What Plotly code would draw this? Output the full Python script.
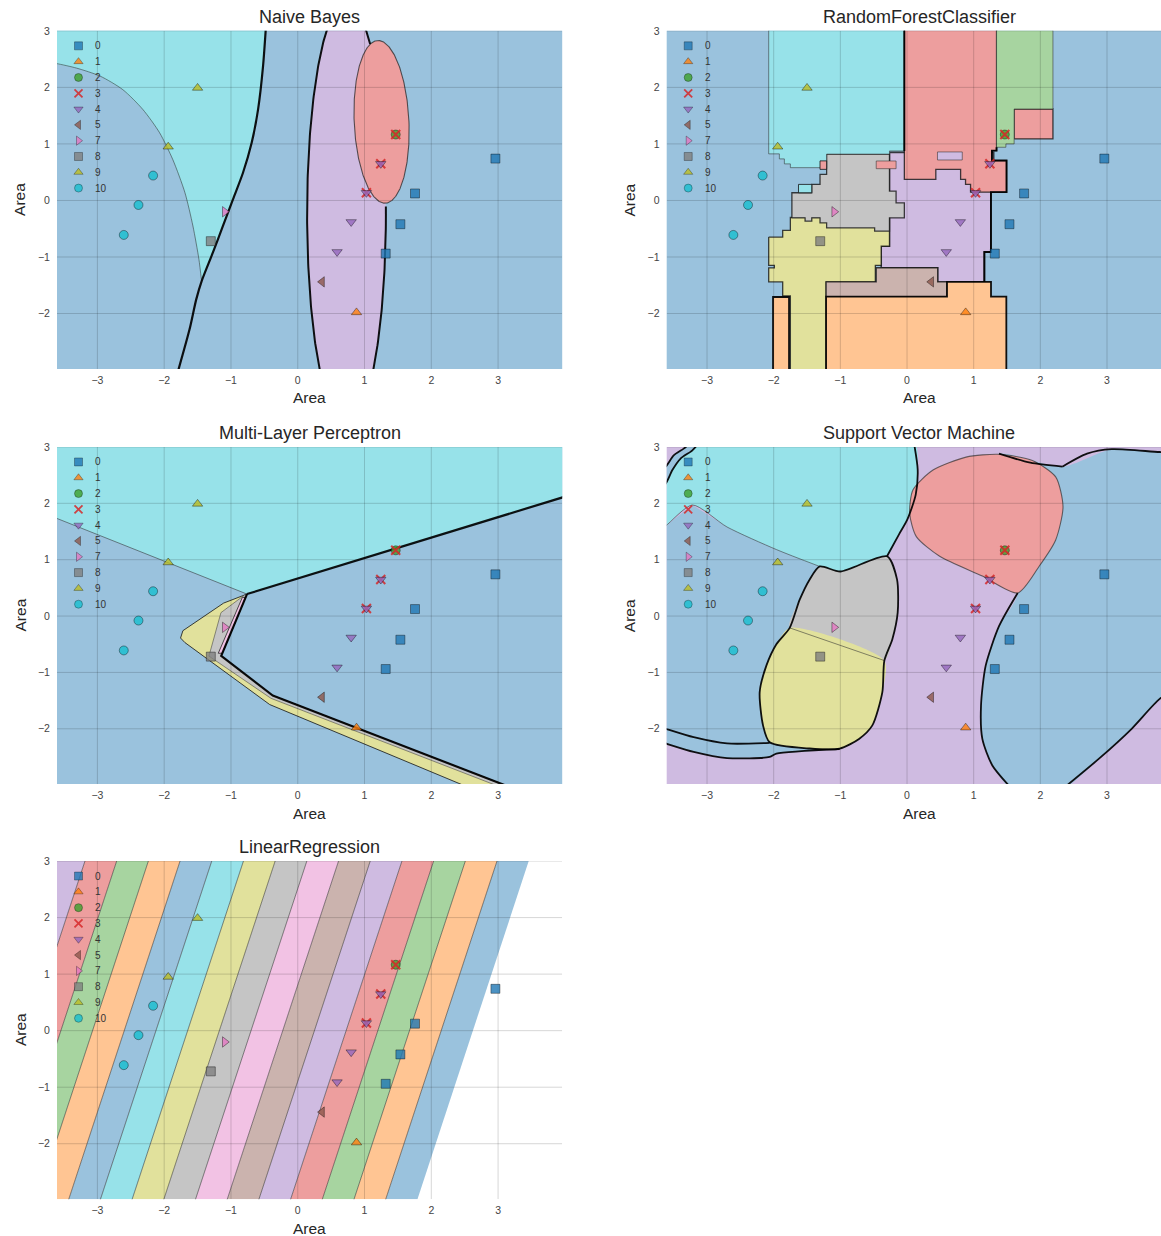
import numpy as np
import plotly.graph_objects as go

W, H = 1161, 1236
FONT = "Liberation Sans, Arial, sans-serif"

# ---------------- samples ----------------
sample_x = [2.96, 1.756, 1.537, 1.317, 0.88, 1.467, 1.467, 1.243, 1.028,
            1.243, 1.028, 0.80, 0.589, 0.364, -1.093, -1.302, -1.50, -1.94,
            -2.166, -2.385, -2.605]
sample_y = [0.74, 0.124, -0.42, -0.94, -1.98, 1.166, 1.166, 0.648, 0.135,
            0.648, 0.135, -0.38, -0.91, -1.44, -0.20, -0.72, 1.99, 0.95,
            0.44, -0.08, -0.61]
sample_class = [0, 0, 0, 0, 1, 2, 3, 3, 3, 4, 4, 4, 4, 5, 7, 8, 9, 9, 10, 10, 10]

class_labels = [0, 1, 2, 3, 4, 5, 7, 8, 9, 10]
class_colors = ['#1f77b4', '#ff7f0e', '#3ca02c', '#d62728', '#9467bd',
                '#8c564b', '#e377c2', '#7f7f7f', '#bcbd22', '#17becf']
class_symbols = ['square', 'triangle-up', 'circle', 'x-thin', 'triangle-down',
                 'triangle-left', 'triangle-right', 'square', 'triangle-up', 'circle']

x_ticks = [-3, -2, -1, 0, 1, 2, 3]
y_ticks = [-2, -1, 0, 1, 2, 3]

# ---------------- Naive Bayes regions ----------------
nb_boundary_x = [-0.475, -0.52, -0.594, -0.69, -0.82, -0.97, -1.12, -1.27, -1.44, -1.52, -1.62, -1.80]
nb_boundary_y = [3.1, 2.37, 1.61, 1.02, 0.49, 0.02, -0.45, -0.92, -1.43, -1.75, -2.28, -3.05]
nb_apex_index = 8
nb_cyan_edge_x = [-3.7, -3.61, -3.31, -2.96, -2.62, -2.32, -2.07, -1.87, -1.69, -1.57, -1.48, -1.44]
nb_cyan_edge_y = [2.43, 2.42, 2.34, 2.20, 1.96, 1.61, 1.20, 0.72, 0.14, -0.45, -1.04, -1.43]
nb_ellipse_class4 = dict(cx=0.73, cy=-0.24, rx=0.59, ry=3.76, tilt=0.0)
nb_ellipse_class3 = dict(cx=1.255, cy=1.39, rx=0.41, ry=1.44, tilt=0.038)

# ---------------- Random forest regions (drawn in order) ----------------
rf_class4 = [(-0.263, 0.85), (1.3, 0.85), (1.3, 0.147), (1.259, 0.147), (1.259, -0.912),
             (1.16, -0.912), (1.16, -1.441), (0.46, -1.441), (0.46, -1.19), (-0.387, -1.19),
             (-0.387, -0.81), (-0.263, -0.81)]
rf_class9 = [(-2.075, -0.647), (-1.865, -0.647), (-1.865, -0.529), (-1.75, -0.529), (-1.75, -0.30),
             (-0.263, -0.30), (-0.263, -0.81), (-0.387, -0.81), (-0.387, -1.147), (-0.475, -1.147),
             (-0.475, -1.441), (-1.214, -1.441), (-1.214, -3.1), (-1.75, -3.1), (-1.75, -1.688),
             (-1.865, -1.688), (-1.865, -1.441), (-2.075, -1.441), (-2.075, -1.194), (-1.99, -1.194),
             (-1.99, -1.147), (-2.075, -1.147)]
rf_class8 = [(-1.206, 0.82), (-0.263, 0.82), (-0.263, 0.166), (-0.164, 0.166), (-0.164, -0.041),
             (-0.04, -0.041), (-0.04, -0.308), (-0.263, -0.308), (-0.263, -0.544), (-0.486, -0.544),
             (-0.486, -0.485), (-1.206, -0.485), (-1.206, -0.396), (-1.305, -0.396), (-1.305, -0.308),
             (-1.429, -0.308), (-1.429, -0.367), (-1.529, -0.367), (-1.529, -0.308), (-1.727, -0.308),
             (-1.727, 0.136), (-1.429, 0.136), (-1.429, 0.284), (-1.305, 0.284), (-1.305, 0.462),
             (-1.206, 0.462)]
rf_class10 = [(-2.075, 3.1), (-0.04, 3.1), (-0.04, 0.876), (-0.263, 0.876), (-0.263, 0.82),
              (-1.206, 0.82), (-1.206, 0.58), (-1.75, 0.58), (-1.75, 0.647), (-1.84, 0.647),
              (-1.84, 0.735), (-1.915, 0.735), (-1.915, 0.824), (-2.075, 0.824)]
rf_class3_main = [(-0.04, 3.1), (1.343, 3.1), (1.343, 0.882), (1.274, 0.882), (1.274, 0.706),
                  (1.493, 0.706), (1.493, 0.147), (0.953, 0.147), (0.953, 0.284), (0.878, 0.284),
                  (0.878, 0.373), (0.804, 0.373), (0.804, 0.55), (0.432, 0.55), (0.432, 0.373),
                  (-0.04, 0.373)]
rf_class3_strip = [(-0.462, 0.562), (-0.164, 0.562), (-0.164, 0.698), (-0.462, 0.698)]
rf_class3_small = [(-1.305, 0.55), (-1.206, 0.55), (-1.206, 0.70), (-1.305, 0.70)]
rf_class3_block = [(1.607, 1.088), (2.189, 1.088), (2.189, 1.618), (1.607, 1.618)]
rf_class2 = [(1.343, 3.1), (2.189, 3.1), (2.189, 1.618), (1.607, 1.618), (1.607, 1.0),
             (1.483, 1.0), (1.483, 0.941), (1.343, 0.941)]
rf_class5 = [(-1.214, -1.70), (0.60, -1.70), (0.60, -1.441), (0.46, -1.441), (0.46, -1.19),
             (-0.462, -1.19), (-0.462, -1.441), (-1.214, -1.441)]
rf_class1_main = [(-1.214, -3.1), (1.49, -3.1), (1.49, -1.70), (1.26, -1.70), (1.26, -1.441),
                  (0.60, -1.441), (0.60, -1.70), (-1.214, -1.70)]
rf_class1_column = [(-2.01, -3.1), (-1.77, -3.1), (-1.77, -1.708), (-2.01, -1.708)]
rf_class10_island = [(-1.628, 0.136), (-1.429, 0.136), (-1.429, 0.284), (-1.628, 0.284)]
rf_class4_island = [(0.457, 0.716), (0.829, 0.716), (0.829, 0.858), (0.457, 0.858)]
rf_heavy_edges = [
    [(-0.04, 3.1), (-0.04, 0.876)],
    [(1.343, 0.941), (1.343, 0.882), (1.274, 0.882), (1.274, 0.706), (1.493, 0.706),
     (1.493, 0.147), (1.259, 0.147), (1.259, -0.912), (1.16, -0.912), (1.16, -1.441)],
]

# ---------------- Multi-layer perceptron regions ----------------
mlp_class10 = [(-3.7, 1.776), (-0.76, 0.39), (4.05, 2.136), (4.05, 3.1), (-3.7, 3.1)]
mlp_class9 = [(-0.76, 0.39), (-1.11, 0.23), (-1.72, -0.26), (-1.755, -0.39), (-1.69, -0.47),
              (-0.42, -1.57), (2.68, -3.1), (3.32, -3.1), (-0.374, -1.41), (-1.146, -0.706)]
mlp_class8 = [(-0.76, 0.39), (-0.80, 0.37), (-1.15, 0.06), (-1.33, -0.71), (-0.40, -1.46),
              (3.18, -3.1), (3.32, -3.1), (-0.374, -1.41), (-1.146, -0.706)]
mlp_class7 = [(-0.781, 0.33), (-0.83, 0.33), (-1.19, -0.66), (-1.13, -0.66)]
mlp_thin_edge = [(-3.7, 1.776), (-0.76, 0.39)]
mlp_heavy_edges = [
    [(-0.76, 0.39), (4.05, 2.136)],
    [(-0.76, 0.39), (-1.146, -0.706), (-0.374, -1.41), (3.32, -3.1)],
]

# ---------------- Support vector machine regions ----------------
svm_class0_left = [(-3.7, 1.55), (-3.62, 1.6), (-3.22, 1.97), (-2.70, 1.58), (-1.96, 1.18),
                   (-1.31, 0.88), (-1.0, 0.79), (-0.5, 0.0), (-0.95, -2.3), (-1.01, -2.36),
                   (-1.96, -2.44), (-2.06, -2.50), (-2.70, -2.52), (-3.2, -2.41), (-3.62, -2.26),
                   (-3.7, -2.23)]
svm_class0_crescent = [(-3.7, 2.60), (-3.62, 2.65), (-3.50, 2.85), (-3.35, 2.97), (-3.22, 3.1),
                       (-3.10, 3.1), (-3.22, 2.94), (-3.40, 2.79), (-3.52, 2.59), (-3.62, 2.35),
                       (-3.7, 2.30)]
svm_class10 = [(-3.10, 3.1), (-3.22, 2.94), (-3.40, 2.79), (-3.52, 2.59), (-3.62, 2.35),
               (-3.7, 2.30), (-3.7, 1.55), (-3.62, 1.6), (-3.22, 1.97), (-2.70, 1.58),
               (-1.96, 1.18), (-1.31, 0.88), (-1.0, 0.79), (-0.30, 1.06), (-0.12, 1.45),
               (0.0, 1.7), (0.13, 2.15), (0.16, 2.6), (0.10, 3.1)]
svm_class8 = [(-1.31, 0.88), (-1.0, 0.79), (-0.30, 1.06), (-0.15, 0.65), (-0.14, 0.06),
              (-0.22, -0.41), (-0.34, -0.79), (-1.76, -0.21), (-1.61, 0.29), (-1.46, 0.65)]
svm_class9 = [(-1.76, -0.21), (-0.34, -0.79), (-0.37, -1.35), (-0.52, -1.94), (-0.72, -2.18),
              (-1.01, -2.35), (-1.46, -2.35), (-2.06, -2.24), (-2.16, -1.94), (-2.21, -1.35),
              (-2.11, -0.88), (-1.96, -0.5)]
svm_class0_right = [(1.66, 0.41), (1.38, -0.18), (1.18, -0.88), (1.11, -1.59), (1.13, -2.18),
                    (1.28, -2.65), (1.60, -3.1), (2.30, -3.1), (2.88, -2.53), (3.37, -2.0),
                    (3.79, -1.47), (4.1, -1.25), (4.1, 2.9), (3.79, 2.91), (3.07, 2.96),
                    (2.33, 2.65), (1.38, 2.88), (1.1, 2.6), (1.3, 1.5)]
svm_class3 = [(1.38, 2.87), (0.886, 2.82), (0.39, 2.59), (0.09, 2.24), (0.04, 1.82), (0.14, 1.41),
              (0.49, 1.06), (1.13, 0.71), (1.66, 0.41), (1.98, 0.88), (2.23, 1.35), (2.34, 1.94),
              (2.23, 2.47), (1.88, 2.76)]
svm_thin_edges = [
    [(-3.7, 1.55), (-3.62, 1.6), (-3.22, 1.97), (-2.70, 1.58), (-1.96, 1.18), (-1.31, 0.88)],
    [(-1.76, -0.21), (-0.34, -0.79)],
]
svm_heavy_edges = [
    [(0.10, 3.1), (0.16, 2.6), (0.13, 2.15), (0.0, 1.7), (-0.12, 1.45), (-0.30, 1.06)],
    [(-1.31, 0.88), (-1.0, 0.79), (-0.30, 1.06), (-0.15, 0.65), (-0.14, 0.06), (-0.22, -0.41),
     (-0.34, -0.79), (-0.37, -1.35), (-0.52, -1.94), (-0.72, -2.18), (-1.01, -2.35),
     (-1.46, -2.35), (-2.06, -2.24), (-2.16, -1.94), (-2.21, -1.35), (-2.11, -0.88),
     (-1.96, -0.5), (-1.76, -0.21), (-1.61, 0.29), (-1.46, 0.65), (-1.31, 0.88)],
    [(-3.7, -1.97), (-3.62, -2.0), (-3.2, -2.15), (-2.70, -2.26), (-2.06, -2.25)],
    [(-3.7, -2.23), (-3.62, -2.26), (-3.2, -2.41), (-2.70, -2.52), (-2.06, -2.50), (-1.96, -2.44),
     (-1.01, -2.36)],
    [(-3.7, 2.60), (-3.62, 2.65), (-3.50, 2.85), (-3.35, 2.97), (-3.22, 3.1)],
    [(-3.10, 3.1), (-3.22, 2.94), (-3.40, 2.79), (-3.52, 2.59), (-3.62, 2.35), (-3.7, 2.30)],
    [(1.66, 0.41), (1.38, -0.18), (1.18, -0.88), (1.11, -1.59), (1.13, -2.18), (1.28, -2.65),
     (1.60, -3.1)],
    [(2.30, -3.1), (2.88, -2.53), (3.37, -2.0), (3.79, -1.47), (4.1, -1.25)],
    [(1.38, 2.88), (1.85, 2.72), (2.33, 2.65)],
    [(2.33, 2.65), (2.7, 2.88), (3.07, 2.96), (3.79, 2.91), (4.1, 2.9)],
]

# ---------------- Linear regression model ----------------
lr_intercept = 5.026
lr_coef_x = -2.107
lr_coef_y = 0.587

# ---------------- layout geometry (pixels on the page) ----------------
COL_PX = [(57.0, 562.2), (666.7, 1161.0)]
COL_CENTER_PX = [309.6, 919.0]
ROW_PX = [(31.0, 369.0), (447.0, 784.0), (861.0, 1199.0)]
X_RANGES = [[-3.605, 3.96], [-3.605, 3.81]]
Y_RANGE = [-2.98, 3.0]

# vertical placement calibration of the page
PAGE_Y0, PAGE_YS = 6.16, 0.9949


def paper_y(py):
    return 1.0 - ((py - PAGE_Y0) / PAGE_YS) / H


panels = [
    dict(title="Naive Bayes", col=0, row=0),
    dict(title="RandomForestClassifier", col=1, row=0),
    dict(title="Multi-Layer Perceptron", col=0, row=1),
    dict(title="Support Vector Machine", col=1, row=1),
    dict(title="LinearRegression", col=0, row=2),
]

THIN = "rgba(45,45,45,0.55)"
MED = "rgba(20,20,20,0.8)"
HEAVY = "rgba(0,0,0,0.92)"
GRID = "rgba(0,0,0,0.16)"


def hex_rgb(h):
    h = h.lstrip('#')
    return tuple(int(h[i:i + 2], 16) for i in (0, 2, 4))


def fill_of(label, alpha=0.45):
    r, g, b = hex_rgb(class_colors[class_labels.index(label)])
    mix = lambda c: round((1 - alpha) * 255 + alpha * c)
    return f"rgb({mix(r)},{mix(g)},{mix(b)})"


def rgba_of(label, a):
    r, g, b = hex_rgb(class_colors[class_labels.index(label)])
    return f"rgba({r},{g},{b},{a})"


fig = go.Figure()


def axes_of(i):
    return ("x" if i == 0 else f"x{i + 1}", "y" if i == 0 else f"y{i + 1}")


def region(ax, pts, label, lw=0.9, lc=THIN, smooth=False):
    xs = [p[0] for p in pts] + [pts[0][0]]
    ys = [p[1] for p in pts] + [pts[0][1]]
    fig.add_trace(go.Scatter(
        x=xs, y=ys, mode="lines", fill="toself", fillcolor=fill_of(label),
        line=dict(color=lc if lw > 0 else "rgba(0,0,0,0)", width=lw,
                  shape="spline" if smooth else "linear", smoothing=0.7),
        xaxis=ax[0], yaxis=ax[1], hoverinfo="skip", showlegend=False))


def edge(ax, xs, ys, lw, lc, smooth=False):
    fig.add_trace(go.Scatter(
        x=xs, y=ys, mode="lines",
        line=dict(color=lc, width=lw, shape="spline" if smooth else "linear", smoothing=0.7),
        xaxis=ax[0], yaxis=ax[1], hoverinfo="skip", showlegend=False))


def edge_pts(ax, pts, lw, lc, smooth=False):
    edge(ax, [p[0] for p in pts], [p[1] for p in pts], lw, lc, smooth)


def backdrop(ax, label):
    region(ax, [(-3.8, -3.2), (4.2, -3.2), (4.2, 3.2), (-3.8, 3.2)], label, lw=0)


def ellipse(e, n=360):
    t = np.linspace(0, 2 * np.pi, n)
    c, s = np.cos(e["tilt"]), np.sin(e["tilt"])
    ex = e["cx"] + e["rx"] * np.cos(t) * c - e["ry"] * np.sin(t) * s
    ey = e["cy"] + e["rx"] * np.cos(t) * s + e["ry"] * np.sin(t) * c
    return ex, ey


def inside(e, x, y):
    c, s = np.cos(e["tilt"]), np.sin(e["tilt"])
    dx, dy = x - e["cx"], y - e["cy"]
    u = (dx * c + dy * s) / e["rx"]
    v = (-dx * s + dy * c) / e["ry"]
    return u * u + v * v < 1.0


def gridlines(i):
    ax = axes_of(i)
    xr = X_RANGES[panels[i]["col"]]
    xs, ys = [], []
    for t in x_ticks:
        xs += [t, t, None]
        ys += [Y_RANGE[0], Y_RANGE[1], None]
    for t in y_ticks:
        xs += [xr[0], xr[1], None]
        ys += [t, t, None]
    edge(ax, xs, ys, 1.0, GRID)


def samples(i):
    ax = axes_of(i)
    for k, lab in enumerate(class_labels):
        idx = [j for j, c in enumerate(sample_class) if c == lab]
        if not idx:
            continue
        sym = class_symbols[k]
        if sym == "x-thin":
            mk = dict(symbol=sym, size=9, line=dict(color=rgba_of(lab, 0.85), width=2))
        else:
            mk = dict(symbol=sym, size=9, color=rgba_of(lab, 0.8),
                      line=dict(color="rgba(0,0,0,0.55)", width=0.7))
        fig.add_trace(go.Scatter(
            x=[sample_x[j] for j in idx], y=[sample_y[j] for j in idx], mode="markers",
            marker=mk, xaxis=ax[0], yaxis=ax[1], hoverinfo="skip", showlegend=False))


annotations = []


def key(i):
    # class key in the upper-left corner of each panel
    ax = axes_of(i)
    col, row = panels[i]["col"], panels[i]["row"]
    xr = X_RANGES[col]
    px_x = (COL_PX[col][1] - COL_PX[col][0]) / (xr[1] - xr[0])
    px_y = (ROW_PX[row][1] - ROW_PX[row][0]) / (Y_RANGE[1] - Y_RANGE[0])
    mx = xr[0] + 21.5 / px_x
    tx = xr[0] + 36.0 / px_x
    ys = [Y_RANGE[1] - (15.0 + 15.8 * k) / px_y for k in range(len(class_labels))]
    for k, lab in enumerate(class_labels):
        sym = class_symbols[k]
        if sym == "x-thin":
            mk = dict(symbol=sym, size=8, line=dict(color=rgba_of(lab, 0.85), width=1.8))
        else:
            mk = dict(symbol=sym, size=8, color=rgba_of(lab, 0.8),
                      line=dict(color="rgba(0,0,0,0.5)", width=0.6))
        fig.add_trace(go.Scatter(x=[mx], y=[ys[k]], mode="markers", marker=mk,
                                 xaxis=ax[0], yaxis=ax[1], hoverinfo="skip", showlegend=False))
        annotations.append(dict(x=tx, y=ys[k], xref=ax[0], yref=ax[1], text=str(lab),
                                showarrow=False, xanchor="left", yanchor="middle",
                                font=dict(size=10, color="#333333", family=FONT)))


# ---------- panel 1: Naive Bayes ----------
ax = axes_of(0)
backdrop(ax, 0)
nb_cyan = [(-3.7, 3.1)] + list(zip(nb_boundary_x[:nb_apex_index + 1], nb_boundary_y[:nb_apex_index + 1])) \
          + list(zip(nb_cyan_edge_x[::-1][1:], nb_cyan_edge_y[::-1][1:]))
region(ax, nb_cyan, 10, lw=0)
ex4, ey4 = ellipse(nb_ellipse_class4)
region(ax, list(zip(ex4, ey4)), 4, lw=0)
ex3, ey3 = ellipse(nb_ellipse_class3)
region(ax, list(zip(ex3, ey3)), 3, lw=1.1, lc="rgba(40,40,40,0.75)")
gridlines(0)
edge(ax, nb_cyan_edge_x, nb_cyan_edge_y, 1.0, THIN, smooth=True)
mask = inside(nb_ellipse_class3, ex4, ey4)
edge(ax, [None if m else v for v, m in zip(ex4, mask)],
     [None if m else v for v, m in zip(ey4, mask)], 2.0, HEAVY)
edge(ax, nb_boundary_x, nb_boundary_y, 2.2, HEAVY, smooth=True)
samples(0)
key(0)

# ---------- panel 2: random forest ----------
ax = axes_of(1)
backdrop(ax, 0)
region(ax, rf_class4, 4, lw=1.6, lc=MED)
region(ax, rf_class9, 9, lw=1.3, lc=MED)
region(ax, rf_class8, 8, lw=1.3, lc=MED)
region(ax, rf_class10, 10, lw=1.0, lc=THIN)
region(ax, rf_class3_main, 3, lw=1.3, lc=MED)
region(ax, rf_class3_strip, 3, lw=1.0, lc=THIN)
region(ax, rf_class3_small, 3, lw=1.0, lc=MED)
region(ax, rf_class3_block, 3, lw=1.3, lc=MED)
region(ax, rf_class2, 2, lw=1.0, lc=THIN)
region(ax, rf_class5, 5, lw=1.3, lc=MED)
region(ax, rf_class1_main, 1, lw=1.8, lc=HEAVY)
region(ax, rf_class1_column, 1, lw=1.8, lc=HEAVY)
region(ax, rf_class10_island, 10, lw=1.0, lc=MED)
region(ax, rf_class4_island, 4, lw=1.0, lc=THIN)
gridlines(1)
for seg in rf_heavy_edges:
    edge_pts(ax, seg, 1.9, HEAVY)
samples(1)
key(1)

# ---------- panel 3: multi-layer perceptron ----------
ax = axes_of(2)
backdrop(ax, 0)
region(ax, mlp_class10, 10, lw=0)
region(ax, mlp_class9, 9, lw=1.0, lc=MED)
region(ax, mlp_class8, 8, lw=0.9, lc=THIN)
region(ax, mlp_class7, 7, lw=0.9, lc=MED)
gridlines(2)
edge_pts(ax, mlp_thin_edge, 1.0, THIN)
for seg in mlp_heavy_edges:
    edge_pts(ax, seg, 2.2, HEAVY)
samples(2)
key(2)

# ---------- panel 4: support vector machine ----------
ax = axes_of(3)
backdrop(ax, 4)
region(ax, svm_class0_left, 0, lw=0)
region(ax, svm_class0_crescent, 0, lw=0, smooth=True)
region(ax, svm_class10, 10, lw=0, smooth=True)
region(ax, svm_class8, 8, lw=0, smooth=True)
region(ax, svm_class9, 9, lw=0, smooth=True)
region(ax, svm_class0_right, 0, lw=0, smooth=True)
region(ax, svm_class3, 3, lw=1.1, lc="rgba(50,50,50,0.7)", smooth=True)
gridlines(3)
for seg in svm_thin_edges:
    edge_pts(ax, seg, 1.0, THIN, smooth=True)
for seg in svm_heavy_edges:
    edge_pts(ax, seg, 1.8, HEAVY, smooth=True)
samples(3)
key(3)

# ---------- panel 5: linear regression ----------
ax = axes_of(4)
xr = X_RANGES[0]
rect = [(xr[0], Y_RANGE[0]), (xr[1], Y_RANGE[0]), (xr[1], Y_RANGE[1]), (xr[0], Y_RANGE[1])]


def clip(poly, a, b, c):
    # keep the part of poly where a*x + b*y + c >= 0
    out = []
    n = len(poly)
    for j in range(n):
        p, q = poly[j], poly[(j + 1) % n]
        fp = a * p[0] + b * p[1] + c
        fq = a * q[0] + b * q[1] + c
        if fp >= 0:
            out.append(p)
        if (fp >= 0) != (fq >= 0):
            t = fp / (fp - fq)
            out.append((p[0] + t * (q[0] - p[0]), p[1] + t * (q[1] - p[1])))
    return out


pred_corners = [lr_intercept + lr_coef_x * px + lr_coef_y * py for px, py in rect]
top_level = int(np.floor(max(pred_corners) + 0.5))
for k in range(0, top_level + 1):
    band = clip(rect, lr_coef_x, lr_coef_y, lr_intercept - (k - 0.5))
    band = clip(band, -lr_coef_x, -lr_coef_y, (k + 0.5) - lr_intercept)
    if len(band) >= 3:
        lab = class_labels[k % len(class_labels)]
        region(ax, band, lab, lw=0)
gridlines(4)
for k in range(0, top_level):
    lvl = k + 0.5
    yy = [Y_RANGE[0] - 0.2, Y_RANGE[1] + 0.2]
    xx = [(lvl - lr_intercept - lr_coef_y * v) / lr_coef_x for v in yy]
    edge(ax, xx, yy, 0.9, "rgba(40,40,40,0.6)")
samples(4)
key(4)

# ---------------- axes & labels ----------------
layout = dict(width=W, height=H, margin=dict(l=0, r=0, t=0, b=0),
              paper_bgcolor="white", plot_bgcolor="white", showlegend=False,
              font=dict(family=FONT, color="#262626"))
for i, p in enumerate(panels):
    col, row = p["col"], p["row"]
    xa, ya = axes_of(i)
    xkey = "xaxis" if i == 0 else f"xaxis{i + 1}"
    ykey = "yaxis" if i == 0 else f"yaxis{i + 1}"
    layout[xkey] = dict(domain=[COL_PX[col][0] / W, COL_PX[col][1] / W], range=X_RANGES[col],
                        anchor=ya, tickvals=x_ticks, showgrid=False, zeroline=False,
                        showline=False, ticks="outside", ticklen=1, tickcolor="rgba(0,0,0,0)",
                        tickfont=dict(size=10.5, color="#444444", family=FONT), fixedrange=True)
    layout[ykey] = dict(domain=[paper_y(ROW_PX[row][1]), paper_y(ROW_PX[row][0])], range=Y_RANGE,
                        anchor=xa, tickvals=y_ticks, showgrid=False, zeroline=False,
                        showline=False, ticks="outside", ticklen=4, tickcolor="rgba(0,0,0,0)",
                        tickfont=dict(size=10.5, color="#444444", family=FONT), fixedrange=True)
    cx = COL_CENTER_PX[col] / W
    annotations.append(dict(x=cx, y=paper_y(ROW_PX[row][0] - 14), xref="paper", yref="paper",
                            text=p["title"], showarrow=False, xanchor="center", yanchor="middle",
                            font=dict(size=18, color="#262626", family=FONT)))
    annotations.append(dict(x=cx, y=paper_y(ROW_PX[row][1] + 29), xref="paper", yref="paper",
                            text="Area", showarrow=False, xanchor="center", yanchor="middle",
                            font=dict(size=15.5, color="#262626", family=FONT)))
    annotations.append(dict(x=(COL_PX[col][0] - 37) / W,
                            y=paper_y((ROW_PX[row][0] + ROW_PX[row][1]) / 2),
                            xref="paper", yref="paper", text="Area", textangle=-90,
                            showarrow=False, xanchor="center", yanchor="middle",
                            font=dict(size=15.5, color="#262626", family=FONT)))
layout["annotations"] = annotations
fig.update_layout(**layout)
fig.write_html("out.html")
